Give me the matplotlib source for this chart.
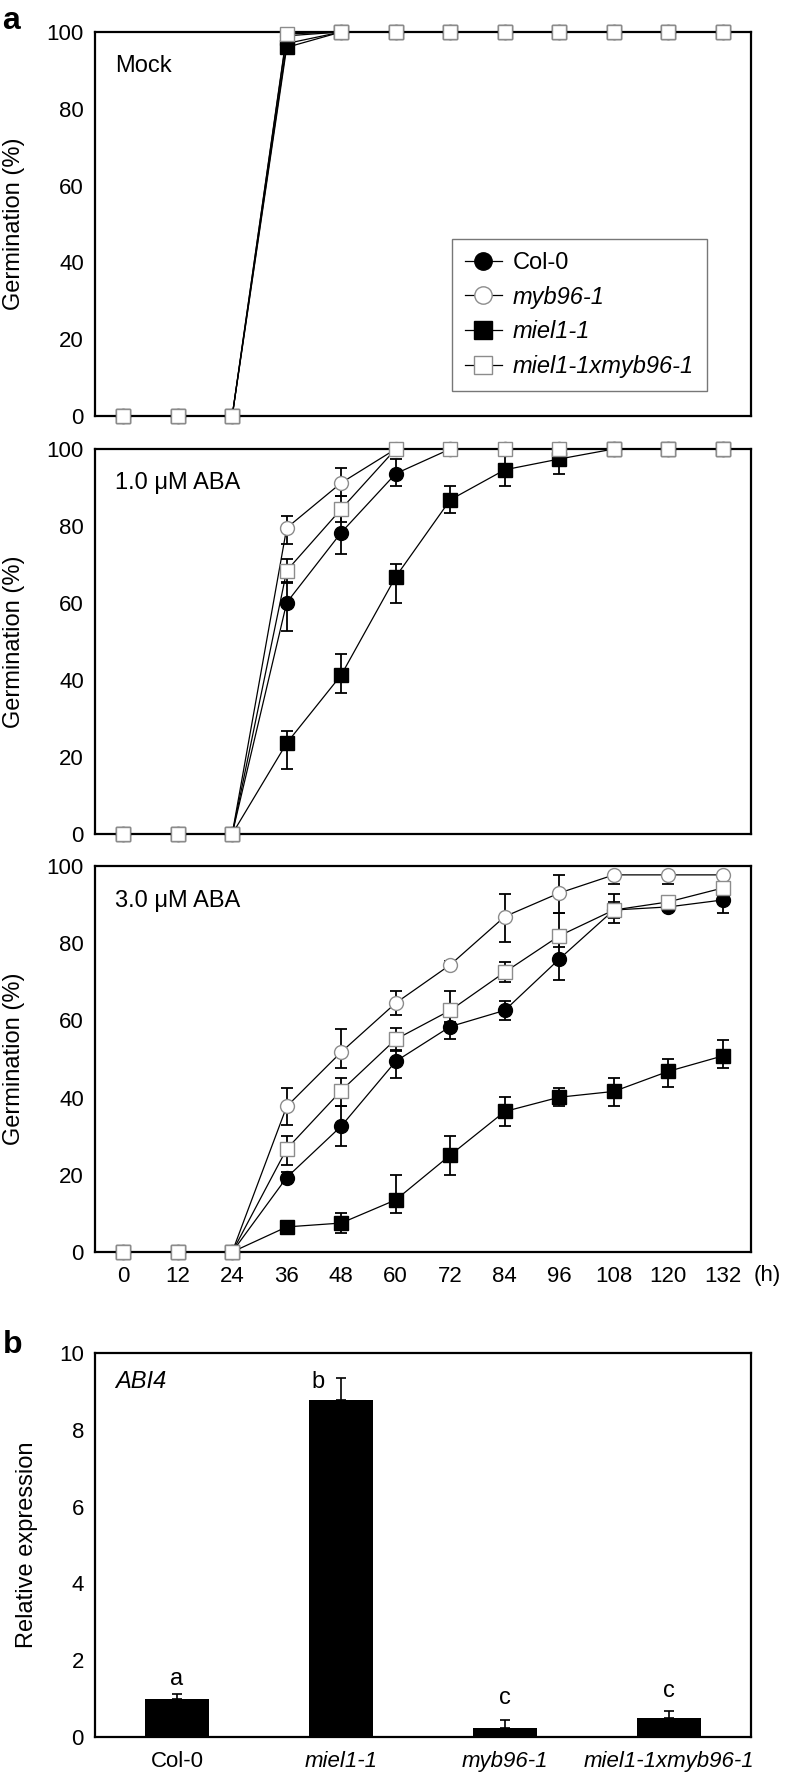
import numpy as np
import matplotlib
matplotlib.use("Agg")
import matplotlib.pyplot as plt

plt.rcParams['font.family'] = ['Liberation Sans', 'DejaVu Sans']

hours = [0, 12, 24, 36, 48, 60, 72, 84, 96, 108, 120, 132]
lines_names = ['Col-0', 'myb96-1', 'miel1-1', 'miel1-1xmyb96-1']

# Mock
mock_col0 = [0, 0, 0, 97, 100, 100, 100, 100, 100, 100, 100, 100]
mock_myb = [0, 0, 0, 99, 100, 100, 100, 100, 100, 100, 100, 100]
mock_miel = [0, 0, 0, 96, 100, 100, 100, 100, 100, 100, 100, 100]
mock_dbl = [0, 0, 0, 99.5, 100, 100, 100, 100, 100, 100, 100, 100]

# 1.0 uM ABA
aba1_col0 = [0, 0, 0, 60.1, 78.3, 93.6, 100, 100, 100, 100, 100, 100]
aba1_col0_lo = [0, 0, 0, 7.4, 5.6, 3.3, 0, 0, 0, 0, 0, 0]
aba1_col0_hi = [0, 0, 0, 5.2, 4.8, 3.8, 0, 0, 0, 0, 0, 0]
aba1_myb = [0, 0, 0, 79.5, 91.2, 100, 100, 100, 100, 100, 100, 100]
aba1_myb_lo = [0, 0, 0, 4.2, 3.5, 0, 0, 0, 0, 0, 0, 0]
aba1_myb_hi = [0, 0, 0, 3.0, 3.8, 0, 0, 0, 0, 0, 0, 0]
aba1_miel = [0, 0, 0, 23.6, 41.3, 66.8, 86.8, 94.6, 97.4, 100, 100, 100]
aba1_miel_lo = [0, 0, 0, 6.7, 4.6, 6.7, 3.4, 4.3, 3.9, 0, 0, 0]
aba1_miel_hi = [0, 0, 0, 3.2, 5.4, 3.2, 3.5, 3.9, 2.0, 0, 0, 0]
aba1_dbl = [0, 0, 0, 68.4, 84.4, 100, 100, 100, 100, 100, 100, 100]
aba1_dbl_lo = [0, 0, 0, 3.0, 3.3, 0, 0, 0, 0, 0, 0, 0]
aba1_dbl_hi = [0, 0, 0, 3.0, 3.3, 0, 0, 0, 0, 0, 0, 0]

# 3.0 uM ABA
aba3_col0 = [0, 0, 0, 19.3, 32.6, 49.4, 58.4, 62.6, 75.9, 88.6, 89.4, 91.2]
aba3_col0_lo = [0, 0, 0, 1.5, 5.1, 4.4, 3.3, 2.5, 5.4, 2.0, 1.0, 3.4]
aba3_col0_hi = [0, 0, 0, 1.5, 5.1, 3.0, 3.0, 2.4, 5.5, 2.0, 1.0, 3.0]
aba3_myb = [0, 0, 0, 37.7, 51.8, 64.5, 74.4, 86.9, 93.0, 97.7, 97.7, 97.7]
aba3_myb_lo = [0, 0, 0, 4.9, 4.2, 3.0, 1.0, 6.5, 5.2, 2.4, 2.4, 0.5]
aba3_myb_hi = [0, 0, 0, 4.9, 5.9, 3.2, 1.0, 5.9, 4.7, 0.5, 0.5, 0.5]
aba3_miel = [0, 0, 0, 6.5, 7.5, 13.5, 25.1, 36.4, 40.1, 41.6, 46.8, 50.8]
aba3_miel_lo = [0, 0, 0, 1.0, 2.6, 3.4, 5.1, 3.7, 2.4, 3.9, 4.1, 3.2]
aba3_miel_hi = [0, 0, 0, 1.0, 2.6, 6.5, 5.0, 3.7, 2.4, 3.4, 3.2, 4.2]
aba3_dbl = [0, 0, 0, 26.7, 41.8, 55.1, 62.6, 72.5, 81.9, 88.6, 90.7, 94.3]
aba3_dbl_lo = [0, 0, 0, 4.2, 4.1, 3.0, 3.0, 2.5, 3.0, 3.4, 1.0, 1.0]
aba3_dbl_hi = [0, 0, 0, 3.4, 3.2, 3.0, 5.0, 2.7, 5.9, 4.1, 1.0, 1.0]

# panel b, ABI4 expression
genotypes = ['Col-0', 'miel1-1', 'myb96-1', 'miel1-1xmyb96-1']
abi4_expr = [1.0, 8.77, 0.23, 0.49]
abi4_err = [0.13, 0.58, 0.2, 0.2]
abi4_letters = ['a', 'b', 'c', 'c']
letter_x = [0, 0.86, 2, 3]
letter_y = [1.35, 9.1, 0.87, 1.04]

styles = [
    dict(marker='o', mfc='black', mec='black'),
    dict(marker='o', mfc='white', mec='#8c8c8c'),
    dict(marker='s', mfc='black', mec='black'),
    dict(marker='s', mfc='white', mec='#8c8c8c'),
]

W, H = 788, 1776
fig = plt.figure(figsize=(W / 100, H / 100), dpi=100)


def make_ax(top, bottom):
    return fig.add_axes([95 / W, 1 - bottom / H, 656 / W, (bottom - top) / H])


def style_ax(ax):
    for s in ax.spines.values():
        s.set_linewidth(1.6)
    ax.tick_params(length=0, labelsize=16, pad=8)


def line_panel(ax, series, errs, label):
    z = 3
    handles = []
    for i, y in enumerate(series):
        y = np.array(y, dtype=float)
        if errs is not None:
            lo = np.array(errs[i][0], dtype=float)
            hi = np.array(errs[i][1], dtype=float)
            m = (lo + hi) > 0
            ax.errorbar(np.array(hours)[m], y[m], yerr=[lo[m], hi[m]], fmt='none',
                        ecolor='black', elinewidth=1.3, capsize=4.5, capthick=1.3,
                        zorder=z, clip_on=False)
        h, = ax.plot(hours, y, color='black', lw=0.9, ms=10, mew=1.0,
                     zorder=z + 0.5, clip_on=False, **styles[i])
        handles.append(h)
        z += 1
    ax.set_xlim(-6.2, 138.2)
    ax.set_ylim(0, 100)
    ax.set_yticks([0, 20, 40, 60, 80, 100])
    ax.set_xticks(hours)
    style_ax(ax)
    ax.set_ylabel('Germination (%)', fontsize=17)
    ax.yaxis.set_label_coords(-0.107, 0.5)
    ax.text(0.03, 0.895, label, transform=ax.transAxes, fontsize=17, va='baseline')
    return handles


ax1 = make_ax(32, 416)
h = line_panel(ax1, [mock_col0, mock_myb, mock_miel, mock_dbl], None, 'Mock')
ax1.tick_params(labelbottom=False)
leg = ax1.legend(h, lines_names, loc='upper right', bbox_to_anchor=(0.951, 0.492),
                 fancybox=False, edgecolor='#777777', framealpha=1, fontsize=17,
                 labelspacing=0.5, handlelength=1.57, handletextpad=0.47,
                 borderpad=0.55, markerscale=1.25)
leg.get_frame().set_linewidth(1.0)
for t in leg.get_texts()[1:]:
    t.set_style('italic')

ax2 = make_ax(449, 834)
line_panel(ax2, [aba1_col0, aba1_myb, aba1_miel, aba1_dbl],
           [(aba1_col0_lo, aba1_col0_hi), (aba1_myb_lo, aba1_myb_hi),
            (aba1_miel_lo, aba1_miel_hi), (aba1_dbl_lo, aba1_dbl_hi)],
           '1.0 \u03bcM ABA')
ax2.tick_params(labelbottom=False)

ax3 = make_ax(866, 1252)
line_panel(ax3, [aba3_col0, aba3_myb, aba3_miel, aba3_dbl],
           [(aba3_col0_lo, aba3_col0_hi), (aba3_myb_lo, aba3_myb_hi),
            (aba3_miel_lo, aba3_miel_hi), (aba3_dbl_lo, aba3_dbl_hi)],
           '3.0 \u03bcM ABA')
ax3.tick_params(axis='x', pad=10)
ax3.text(1.004, -0.06, '(h)', transform=ax3.transAxes, fontsize=16, va='center')

# bar chart
axb = make_ax(1353, 1737)
xb = np.arange(len(genotypes))
axb.bar(xb, abi4_expr, width=0.39, color='black', zorder=3)
axb.errorbar(xb, abi4_expr, yerr=[np.zeros(len(xb)), abi4_err], fmt='none',
             ecolor='black', elinewidth=1.2, capsize=3.5, capthick=1.2, zorder=2)
for lx, ly, s in zip(letter_x, letter_y, abi4_letters):
    axb.text(lx, ly, s, fontsize=17, ha='center', va='baseline')
axb.set_xlim(-0.5, 3.5)
axb.set_ylim(0, 10)
axb.set_yticks([0, 2, 4, 6, 8, 10])
axb.set_xticks(xb)
axb.set_xticklabels(genotypes)
style_ax(axb)
axb.tick_params(axis='x', pad=10)
for t in axb.get_xticklabels()[1:]:
    t.set_style('italic')
axb.set_ylabel('Relative expression', fontsize=17)
axb.yaxis.set_label_coords(-0.087, 0.5)
axb.text(0.03, 0.909, 'ABI4', transform=axb.transAxes, fontsize=17,
         style='italic', va='baseline')

fig.text(0.003, 1 - 29 / H, 'a', fontsize=23, fontweight='bold', va='baseline')
fig.text(0.004, 1 - 1353 / H, 'b', fontsize=23, fontweight='bold', va='baseline')

fig.savefig('out.png', dpi=100)
